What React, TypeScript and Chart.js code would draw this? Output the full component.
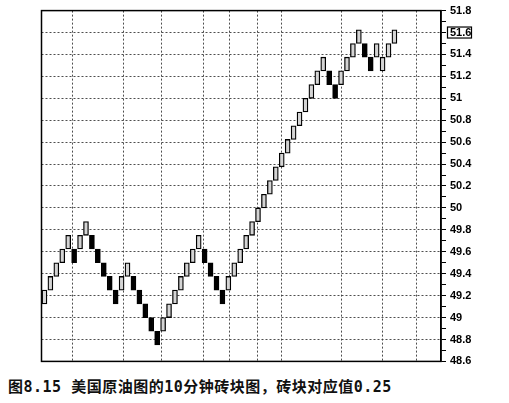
import React, { useEffect, useRef } from 'react';
import { Chart, registerables } from 'chart.js';

Chart.register(...registerables);

// Renko brick size (price units) as drawn in the chart
const brickSize = 0.125;

// Lower edge of every brick, left to right
const brickLow = [
  49.125, 49.25, 49.375, 49.5, 49.625, 49.5, 49.625, 49.75, 49.625, 49.5,
  49.375, 49.25, 49.125, 49.25, 49.375, 49.25, 49.125, 49.0, 48.875, 48.75,
  48.875, 49.0, 49.125, 49.25, 49.375, 49.5, 49.625, 49.5, 49.375, 49.25,
  49.125, 49.25, 49.375, 49.5, 49.625, 49.75, 49.875, 50.0, 50.125, 50.25,
  50.375, 50.5, 50.625, 50.75, 50.875, 51.0, 51.125, 51.25, 51.125, 51.0,
  51.125, 51.25, 51.375, 51.5, 51.375, 51.25, 51.375, 51.25, 51.375, 51.5,
];

// Brick style: U = hollow (up) brick, D = solid black (down) brick
const brickKind = [
  'U', 'U', 'U', 'U', 'U', 'D', 'U', 'U', 'D', 'D',
  'D', 'D', 'D', 'U', 'U', 'D', 'D', 'D', 'D', 'D',
  'U', 'U', 'U', 'U', 'U', 'U', 'U', 'D', 'D', 'D',
  'D', 'U', 'U', 'U', 'U', 'U', 'U', 'U', 'U', 'U',
  'U', 'U', 'U', 'U', 'U', 'U', 'U', 'U', 'D', 'D',
  'U', 'U', 'U', 'U', 'D', 'D', 'U', 'U', 'U', 'U',
];

// Price axis labels (every 0.2) and the unlabeled minor ticks
const priceMajor = [
  48.6, 48.8, 49, 49.2, 49.4, 49.6, 49.8, 50, 50.2, 50.4, 50.6, 50.8, 51,
  51.2, 51.4, 51.6, 51.8,
];
const priceMinor = [
  48.7, 48.9, 49.1, 49.3, 49.5, 49.7, 49.9, 50.1, 50.3, 50.5, 50.7, 50.9,
  51.1, 51.3, 51.5, 51.7,
];

// Time dividers of the original chart, in brick-index units
const timeDividers = [4.75, 13.35, 19.7, 26.75, 31.25, 35.9, 39.9, 50, 57, 62.75];

const lastPrice = 51.6;

const captionParts = [
  { t: '图', mono: false },
  { t: '8.15 ', mono: true },
  { t: '美国原油图的', mono: false },
  { t: '10', mono: true },
  { t: '分钟砖块图，砖块对应值', mono: false },
  { t: '0.25', mono: true },
];

const majorSet = new Set(priceMajor);

export default function App() {
  const ref = useRef<HTMLCanvasElement>(null);

  useEffect(() => {
    const canvas = ref.current!;
    const data = brickLow.map((lo, i) => ({ x: i, y: [lo, lo + brickSize] }));

    const framePlugin = {
      id: 'frame',
      afterDraw(chart: any) {
        const { ctx, chartArea: a, scales } = chart;
        ctx.save();
        ctx.strokeStyle = '#000';
        ctx.lineWidth = 1.5;
        ctx.strokeRect(a.left, a.top, a.right - a.left, a.bottom - a.top);
        const y = scales.y.getPixelForValue(lastPrice);
        ctx.lineWidth = 1.2;
        ctx.strokeRect(a.right + 6.5, y - 5.5, 24, 11);
        ctx.restore();
      },
    };

    const chart = new Chart(canvas, {
      type: 'bar',
      data: {
        datasets: [
          {
            data: data as any,
            backgroundColor: brickKind.map((k) => (k === 'U' ? '#d4d4d4' : '#000')),
            borderColor: '#000',
            borderWidth: 1.3,
            borderSkipped: false,
            barThickness: 5,
          },
        ],
      },
      options: {
        responsive: false,
        animation: false,
        layout: { padding: { left: 41.5, top: 9.5, right: 0, bottom: 7.5 } },
        plugins: { legend: { display: false }, tooltip: { enabled: false } },
        scales: {
          x: {
            type: 'linear',
            offset: false,
            min: -0.5,
            max: 66.85,
            afterBuildTicks: (s: any) => {
              s.ticks = timeDividers.map((v) => ({ value: v }));
            },
            afterFit: (s: any) => {
              s.height = 0;
            },
            ticks: { display: false },
            grid: { color: '#3a3a3a', lineWidth: 0.9, drawTicks: false, offset: false },
            border: { display: false, dash: [2, 2] },
          },
          y: {
            position: 'right',
            min: 48.6,
            max: 51.8,
            afterBuildTicks: (s: any) => {
              s.ticks = [...priceMajor, ...priceMinor]
                .sort((a, b) => a - b)
                .map((v) => ({ value: v }));
            },
            afterFit: (s: any) => {
              s.width = 68;
            },
            ticks: {
              autoSkip: false,
              padding: 4,
              color: '#000',
              font: { family: '"Liberation Sans", Arial, sans-serif', size: 11, weight: 'bold' },
              callback: (v: any) => (majorSet.has(v) ? String(v) : ''),
            },
            grid: {
              color: (c: any) => (c.tick && majorSet.has(c.tick.value) ? '#3a3a3a' : 'rgba(0,0,0,0)'),
              lineWidth: 0.9,
              tickColor: '#000',
              tickLength: 5,
              tickWidth: 1,
            },
            border: { color: '#000', width: 1.5, dash: [2, 2] },
          },
        },
      } as any,
      plugins: [framePlugin],
    });
    return () => chart.destroy();
  }, []);

  return (
    <div style={{ position: 'absolute', left: 0, top: 0, width: 509, height: 403, background: '#fff' }}>
      <canvas
        ref={ref}
        width={509}
        height={372}
        style={{ position: 'absolute', left: 0, top: 0, width: 509, height: 372 }}
      />
      <div
        style={{
          position: 'absolute',
          left: 8,
          top: 378,
          fontSize: 15,
          lineHeight: '15px',
          fontWeight: 'bold',
          fontFamily: '"Noto Sans CJK SC", sans-serif',
          letterSpacing: '0.5px',
          whiteSpace: 'nowrap',
          color: '#111',
        }}
      >
        {captionParts.map((p, i) => (
          <span
            key={i}
            style={p.mono ? { fontFamily: '"DejaVu Sans Mono", monospace' } : undefined}
          >
            {p.t}
          </span>
        ))}
      </div>
    </div>
  );
}
